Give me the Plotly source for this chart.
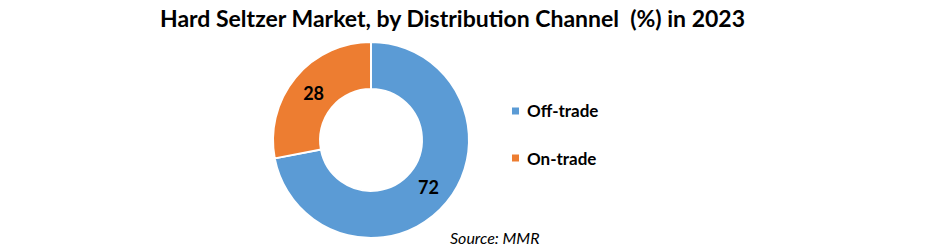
import plotly.graph_objects as go

labels = ["Off-trade", "On-trade"]
values = [72, 28]
colors = ["#5B9BD5", "#ED7D31"]
title_text = "Hard Seltzer Market, by Distribution Channel  (%) in 2023"
source_text = "Source: MMR"

W, H = 941, 250
FONT = "Lato"

fig = go.Figure()
fig.add_trace(go.Pie(
    labels=labels, values=values, hole=0.52,
    sort=False, direction="clockwise", rotation=0,
    marker=dict(colors=colors, line=dict(color="white", width=2)),
    textinfo="value", textposition="inside", insidetextorientation="horizontal",
    textfont=dict(family=FONT, size=18, color="black", weight="bold"),
    domain=dict(x=[(371 - 98) / W, (371 + 98) / W], y=[(250 - 140 - 98) / H, (250 - 140 + 98) / H]),
    showlegend=False, hoverinfo="label+value",
))

# legend drawn manually
leg_y = [111, 158]
for lab, col, yy in zip(labels, colors, leg_y):
    fig.add_shape(type="rect", xref="paper", yref="paper",
                  x0=512 / W, x1=519 / W, y0=(H - yy - 3.5) / H, y1=(H - yy + 3.5) / H,
                  fillcolor=col, line=dict(width=0))
    fig.add_annotation(text=lab, xref="paper", yref="paper", x=525 / W, y=(H - yy) / H,
                       xanchor="left", yanchor="middle", showarrow=False,
                       font=dict(family=FONT, size=17, color="black", weight="bold"))

fig.add_annotation(text=title_text, xref="paper", yref="paper", x=452 / W, y=(H - 18) / H,
                   xanchor="center", yanchor="middle", showarrow=False,
                   font=dict(family=FONT, size=23, color="black", weight="bold"))
fig.add_annotation(text="<i>" + source_text + "</i>", xref="paper", yref="paper", x=448 / W, y=(H - 237) / H,
                   xanchor="left", yanchor="middle", showarrow=False,
                   font=dict(family=FONT, size=16, color="black"))

fig.update_layout(width=W, height=H, margin=dict(l=0, r=0, t=0, b=0),
                  paper_bgcolor="white", plot_bgcolor="white")
fig.write_html("out.html")
